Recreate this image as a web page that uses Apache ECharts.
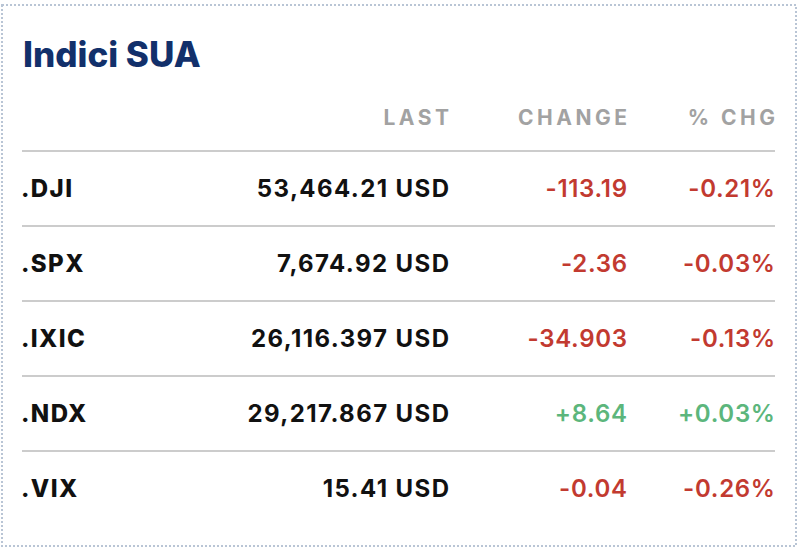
<!DOCTYPE html>
<html>
<head>
<meta charset="utf-8">
<script src="https://cdn.jsdelivr.net/npm/echarts@6/dist/echarts.min.js"></script>
<style>
  html, body { margin: 0; padding: 0; background: #ffffff; }
  #chart { width: 808px; height: 558px; }
</style>
</head>
<body>
<div id="chart"></div>
<script>
// ---- data ----
const titleText = 'Indici SUA';
const headerLabels = ['LAST', 'CHANGE', '% CHG'];
const symbols = ['.DJI', '.SPX', '.IXIC', '.NDX', '.VIX'];
const lastValues = [53464.21, 7674.92, 26116.397, 29217.867, 15.41];
const changeValues = [-113.19, -2.36, -34.903, 8.64, -0.04];
const pctChanges = [-0.21, -0.03, -0.13, 0.03, -0.26];
const currency = 'USD';

// ---- style ----
const FONT = 'Inter, "Open Sans", "Noto Sans", sans-serif';
const RED = '#c23a30';
const GREEN = '#5cb67c';
const INK = '#111111';
const HEADER_GREY = '#a2a2a2';
const RULE = '#cccccc';
const HEADER_SPACING = 3.5;
const DATA_SPACING = 1.4;
const CHANGE_SPACING = 0.7;

function fmtLast(v) {
  return v.toLocaleString('en-US', { minimumFractionDigits: 2, maximumFractionDigits: 3 }) + ' ' + currency;
}
function fmtChange(v) {
  const s = Math.abs(v).toLocaleString('en-US', { minimumFractionDigits: 2, maximumFractionDigits: 3 });
  return (v > 0 ? '+' : '-') + s;
}
function fmtPct(v) {
  return (v > 0 ? '+' : '-') + Math.abs(v).toFixed(2) + '%';
}

const rows = symbols.map((s, i) => [0, i]);
const changeTexts = changeValues.map(fmtChange).concat(pctChanges.map(fmtPct));

const chart = echarts.init(document.getElementById('chart'), null, { renderer: 'svg' });

function renderItem(params, api) {
  const idx = api.value(1);
  const y = api.coord([0, idx])[1];
  const band = api.size([0, 1])[1];
  const cs = params.coordSys;
  const x0 = cs.x;
  const x1 = cs.x + cs.width;
  const ch = changeValues[idx];
  const pc = pctChanges[idx];
  const baseFont = { fontFamily: FONT, fontSize: 24, verticalAlign: 'middle' };
  const d = DATA_SPACING;
  const c = CHANGE_SPACING;
  return {
    type: 'group',
    children: [
      { type: 'line', shape: { x1: x0, y1: y - band / 2, x2: x1, y2: y - band / 2 },
        style: { stroke: RULE, lineWidth: 2 } },
      { type: 'text', style: Object.assign({ x: x0 - 1, y: y, text: symbols[idx], fill: INK, fontWeight: 800, align: 'left' }, baseFont) },
      { type: 'text', style: Object.assign({ x: x0 + 427 + d, y: y, text: fmtLast(lastValues[idx]), fill: INK, fontWeight: 700, align: 'right' }, baseFont) },
      { type: 'text', style: Object.assign({ x: x0 + 605 + c, y: y, text: fmtChange(ch), fill: ch > 0 ? GREEN : RED, fontWeight: 600, align: 'right' }, baseFont) },
      { type: 'text', style: Object.assign({ x: x1 + c, y: y, text: fmtPct(pc), fill: pc > 0 ? GREEN : RED, fontWeight: 600, align: 'right' }, baseFont) }
    ]
  };
}

const headerX = [449, 627, 775];

const option = {
  animation: false,
  backgroundColor: '#ffffff',
  title: {
    text: titleText,
    left: 18,
    top: 31,
    textStyle: { color: '#12306b', fontSize: 35, fontWeight: 800, fontFamily: FONT }
  },
  grid: { left: 22, right: 33, top: 151, height: 375 },
  xAxis: { type: 'value', min: 0, max: 1, show: false },
  yAxis: { type: 'category', data: symbols, inverse: true, show: false },
  graphic: [
    { type: 'rect', silent: true, shape: { x: 2, y: 5, width: 794, height: 541 },
      style: { fill: null, stroke: '#b9c5d5', lineWidth: 2, lineDash: [2, 2] } }
  ].concat(headerLabels.map((t, i) => ({
    type: 'text', silent: true,
    style: { x: headerX[i] + HEADER_SPACING, y: 117, text: t, fill: HEADER_GREY, fontFamily: FONT,
             fontSize: 21, fontWeight: 700, align: 'right', verticalAlign: 'middle' }
  }))),
  series: [{
    type: 'custom',
    coordinateSystem: 'cartesian2d',
    renderItem: renderItem,
    data: rows,
    silent: true
  }]
};

chart.setOption(option);

function applySpacing() {
  document.querySelectorAll('#chart svg text').forEach(el => {
    const t = el.textContent;
    if (headerLabels.indexOf(t) >= 0) {
      el.style.letterSpacing = HEADER_SPACING + 'px';
    } else if (changeTexts.indexOf(t) >= 0) {
      el.style.letterSpacing = CHANGE_SPACING + 'px';
    } else if (t !== titleText) {
      el.style.letterSpacing = DATA_SPACING + 'px';
    }
  });
}
applySpacing();
chart.on('finished', applySpacing);
</script>
</body>
</html>
